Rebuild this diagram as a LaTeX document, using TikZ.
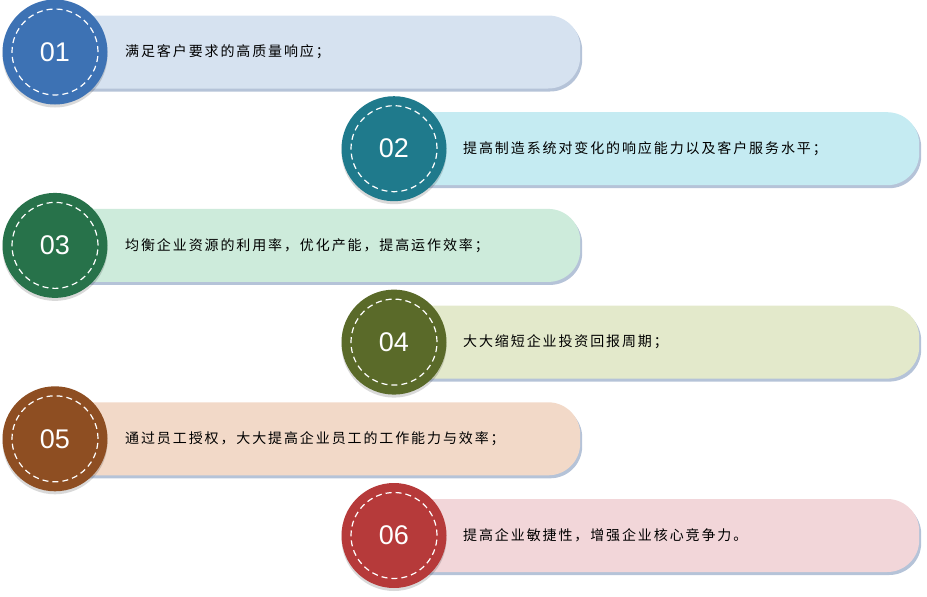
\documentclass[tikz,border=0pt]{standalone}
\usepackage{fontspec}
\setmainfont{Liberation Sans}
\newfontfamily\cjk[LetterSpace=13.5]{Noto Sans CJK SC}
\usetikzlibrary{shadows}
\definecolor{discA}{HTML}{3D72B4}
\definecolor{barA}{HTML}{D6E2F0}
\definecolor{discB}{HTML}{1F7A8C}
\definecolor{barB}{HTML}{C5EBF2}
\definecolor{discC}{HTML}{27724A}
\definecolor{barC}{HTML}{CDEBDB}
\definecolor{discD}{HTML}{5A6A29}
\definecolor{barD}{HTML}{E3E9CB}
\definecolor{discE}{HTML}{8E4E22}
\definecolor{barE}{HTML}{F2D9C8}
\definecolor{discF}{HTML}{B63A3A}
\definecolor{barF}{HTML}{F2D6D9}
\definecolor{barshade}{HTML}{A3B4CE}

\begin{document}
\begin{tikzpicture}[x=1pt,y=-1pt,
	bar/.style={rectangle, rounded corners=32pt, anchor=west,
		minimum width=525pt, minimum height=73pt,
		drop shadow={shadow xshift=2pt, shadow yshift=-3pt, fill=barshade, opacity=.8}},
	disc/.style={circle, minimum size=105pt, inner sep=0pt, text=white,
		font=\fontsize{27}{27}\selectfont,
		drop shadow={shadow xshift=0pt, shadow yshift=-3pt, fill=black, opacity=.15}},
	ring/.style={circle, minimum size=86pt, draw=white, line width=1.2pt,
		dash pattern=on 6pt off 4pt},
	item/.style={anchor=west, inner sep=0pt, font=\cjk\fontsize{14}{15}\selectfont}]
	\useasboundingbox (0,0) rectangle (927,597);
	% 01
	\node[bar, fill=barA] (b1) at (55,52) {};
	\node[disc, fill=discA] (c1) at (55,52) {01};
	\node[ring] (r1) at (c1) {};
	\node[item] (t1) at ([xshift=70pt]b1.west) {满足客户要求的高质量响应；};
	% 02
	\node[bar, fill=barB] (b2) at (394,148.7) {};
	\node[disc, fill=discB] (c2) at (394,148.7) {02};
	\node[ring] (r2) at (c2) {};
	\node[item] (t2) at ([xshift=69pt]b2.west) {提高制造系统对变化的响应能力以及客户服务水平；};
	% 03
	\node[bar, fill=barC] (b3) at (55,245.4) {};
	\node[disc, fill=discC] (c3) at (55,245.4) {03};
	\node[ring] (r3) at (c3) {};
	\node[item] (t3) at ([xshift=70pt]b3.west) {均衡企业资源的利用率，优化产能，提高运作效率；};
	% 04
	\node[bar, fill=barD] (b4) at (394,342.1) {};
	\node[disc, fill=discD] (c4) at (394,342.1) {04};
	\node[ring] (r4) at (c4) {};
	\node[item] (t4) at ([xshift=69pt]b4.west) {大大缩短企业投资回报周期；};
	% 05
	\node[bar, fill=barE] (b5) at (55,438.8) {};
	\node[disc, fill=discE] (c5) at (55,438.8) {05};
	\node[ring] (r5) at (c5) {};
	\node[item] (t5) at ([xshift=70pt]b5.west) {通过员工授权，大大提高企业员工的工作能力与效率；};
	% 06
	\node[bar, fill=barF] (b6) at (394,535.5) {};
	\node[disc, fill=discF] (c6) at (394,535.5) {06};
	\node[ring] (r6) at (c6) {};
	\node[item] (t6) at ([xshift=69pt]b6.west) {提高企业敏捷性，增强企业核心竞争力。};
\end{tikzpicture}
\end{document}
